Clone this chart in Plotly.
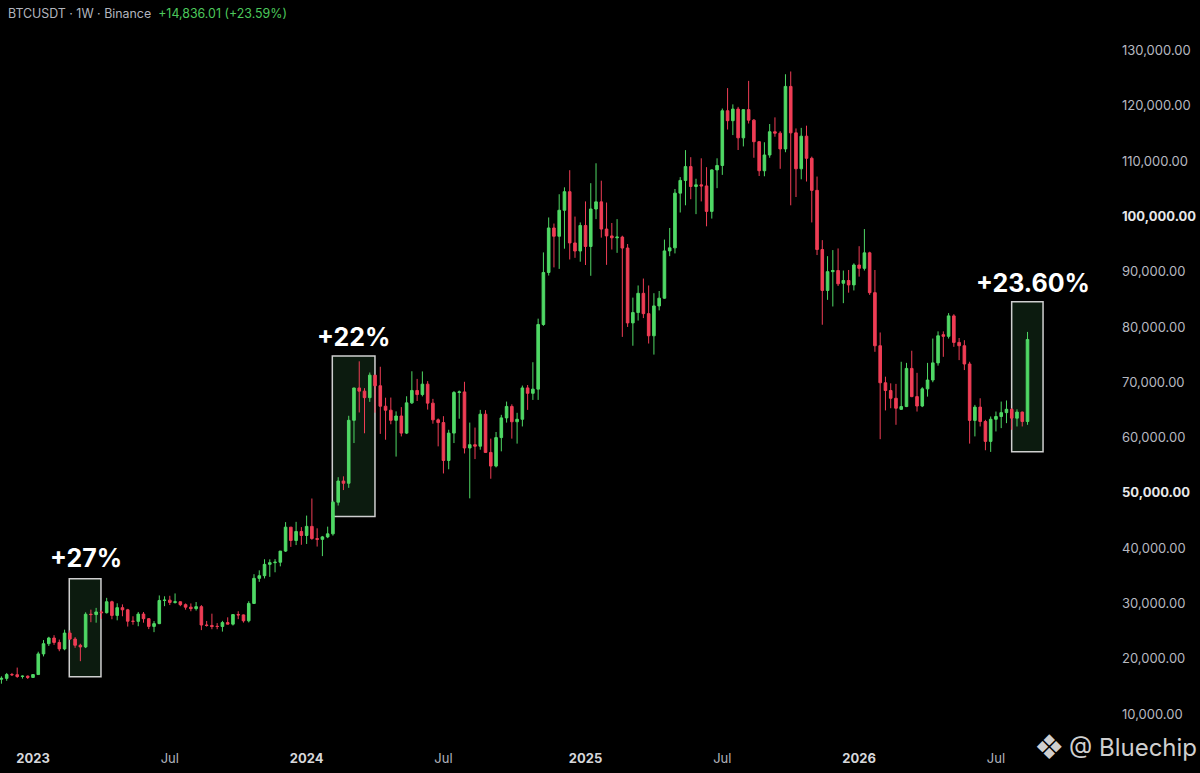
import pandas as pd
import plotly.graph_objects as go

# weekly BTCUSDT candles (Binance)
open_px = [
    16280, 16440, 17130, 17100, 16780, 16840,
    16610, 17130, 20870, 22710, 23740, 22940, 21770, 24630, 23550, 22430,
    22130, 28040, 27980, 28450, 28320, 30300, 27820, 29230, 28840, 26780,
    26750, 28070, 27230, 25840, 26340, 30530, 30590, 30170, 30290, 29770,
    29320, 29050, 29410, 26090, 26010, 25850, 25830, 26530, 26250, 27980,
    27920, 26850, 29990, 34530, 35010, 37060, 37360, 37450, 39460, 43790,
    41370, 43010,
    42280, 43930, 41730, 41580, 42030, 42580, 48300, 52130, 51730, 63110,
    68960, 68390, 67210, 71280, 69360, 65660, 64940, 63110, 63890, 60800,
    66270, 68510, 67770, 69650, 66220, 63200, 62700, 55850, 60800, 68150,
    68250, 58110, 58700, 58430, 64220, 57300, 54840, 59990, 63550, 65620,
    62850, 63300, 68970, 68000, 68750, 80440, 89850, 97900, 96400, 101100,
    104460, 95190,
    93730, 98350, 94550, 101330, 102620, 97700, 96460, 96120, 96250, 94270,
    80730, 82600, 86080, 82400, 78400, 83800, 85200, 93750, 94300, 104200,
    106500, 109000, 105400, 105700, 105500, 100900, 108400, 109200, 119100, 117300,
    119400, 114200, 119300, 117400, 113500, 108250, 111100, 115300, 115050, 112200,
    123500, 115100, 108600, 114500, 110500, 104700, 94000, 86600, 90000, 90200,
    87900, 88400,
    87600, 91200, 90600, 93400, 86200, 76600, 69900, 68500, 67100, 65100,
    65600, 72500, 67400, 65700, 68800, 70400, 73500, 78600, 78300, 82000,
    77200, 76600, 73300, 63100, 65500, 62900, 59300, 63300, 63800, 64500,
    65100, 63500, 64600, 62892,
]
high_px = [
    16810, 17420, 17420, 18390, 16960, 16970,
    17190, 21260, 23370, 23960, 24250, 23460, 25250, 25130, 23900, 22700,
    28390, 28870, 29190, 28800, 31000, 30490, 30020, 29820, 29010, 27670,
    28450, 28440, 27350, 26800, 31440, 31290, 31380, 31800, 30350, 29990,
    29990, 30250, 29690, 26820, 28140, 26440, 26840, 27480, 28050, 28580,
    27990, 30390, 35280, 35980, 37980, 37970, 38000, 39000, 44700, 43800,
    44750, 43800,
    45880, 48970, 43580, 42200, 43880, 48590, 52820, 52980, 63930, 69000,
    73780, 68930, 71760, 71300, 72800, 67200, 67230, 64730, 65500, 67460,
    71980, 70600, 71950, 70200, 66990, 63450, 63860, 61400, 68400, 68500,
    70080, 62700, 61800, 65000, 64950, 59800, 61000, 64100, 66500, 66000,
    64470, 69400, 69500, 73620, 81500, 93480, 99800, 98700, 104000, 105250,
    108350, 99960,
    98900, 102700, 106000, 109600, 106450, 102500, 98800, 99500, 96500, 95000,
    85300, 87500, 88750, 87500, 86100, 86500, 95800, 97900, 104950, 107100,
    111980, 110700, 106800, 110500, 108900, 108500, 110500, 119500, 123200, 120250,
    119800, 119300, 124500, 117600, 113600, 113400, 116700, 117900, 115400, 125700,
    126200, 115900, 116000, 116400, 110800, 107200, 95700, 92800, 93900, 94200,
    90200, 90300,
    91500, 94600, 97700, 93600, 90300, 79000, 71000, 69800, 69700, 73700,
    73500, 75700, 71700, 69100, 73500, 77900, 79200, 79200, 82500, 82300,
    78000, 77600, 73700, 65900, 67100, 63200, 63800, 64700, 66500, 66700,
    65300, 65100, 64700, 79100,
]
low_px = [
    15480, 16000, 16870, 16530, 16400, 16330,
    16550, 17120, 20410, 22300, 22500, 21350, 21530, 23420, 21970, 19550,
    21920, 26600, 26510, 27210, 28170, 27130, 26940, 27670, 25810, 26140,
    25870, 26510, 25350, 24800, 26250, 29500, 29700, 29960, 29500, 28860,
    28580, 28700, 25170, 25800, 25330, 25330, 24900, 26380, 26000, 27150,
    26530, 26560, 29900, 33900, 34520, 34800, 35630, 36700, 39300, 40220,
    40550, 40600,
    40750, 41500, 40280, 38550, 41800, 42260, 47700, 50500, 50900, 59000,
    64530, 60770, 66450, 64490, 60660, 59600, 62400, 56550, 60200, 60630,
    66060, 66600, 67440, 65050, 62500, 58400, 53500, 54260, 59000, 63400,
    57120, 49000, 56100, 57800, 57200, 52550, 54600, 57500, 62700, 59800,
    58900, 62000, 65000, 66800, 66800, 80200, 89300, 90770, 90500, 94150,
    92200, 92500,
    91800, 91200, 89250, 99500, 96150, 91230, 94000, 93400, 78200, 80000,
    76600, 81150, 81600, 77000, 75000, 83000, 85100, 92800, 93300, 100700,
    102000, 103100, 100400, 102700, 98200, 99600, 105100, 107500, 115700, 114700,
    112000, 112650, 116800, 110600, 107300, 107250, 110600, 114400, 108600, 111600,
    102000, 103500, 106700, 106300, 98900, 93000, 80400, 84900, 83700, 87400,
    84300, 86200,
    86600, 89100, 90200, 85800, 75500, 59700, 64900, 65300, 62300, 65000,
    65500, 67300, 64700, 65500, 67400, 70000, 73000, 74600, 77900, 76400,
    74000, 72200, 58900, 60200, 62000, 57700, 57400, 61100, 61700, 62600,
    61400, 62000, 62000, 62300,
]
close_px = [
    16440, 17130, 17100, 16780, 16840, 16610,
    17130, 20870, 22710, 23740, 22940, 21770, 24630, 23550, 22430, 22130,
    28040, 27980, 28450, 28320, 30300, 27820, 29230, 28840, 26780, 26750,
    28070, 27230, 25840, 26340, 30530, 30590, 30170, 30290, 29770, 29320,
    29050, 29410, 26090, 26010, 25820, 25830, 26530, 26250, 27980, 27920,
    26850, 29990, 34530, 35010, 37060, 37360, 37450, 39460, 43790, 41370,
    43010, 42280,
    43930, 41730, 41580, 42030, 42580, 48300, 52130, 51730, 63110, 68960,
    68390, 67210, 71280, 69360, 65660, 64940, 63110, 63890, 60800, 66270,
    68510, 67770, 69650, 66220, 63200, 62700, 55850, 60800, 68150, 68250,
    58110, 58700, 58430, 64220, 57300, 54840, 59990, 63550, 65620, 62850,
    63300, 68970, 68000, 68750, 80440, 89850, 97900, 96400, 101100, 104460,
    95190, 93730,
    98350, 94550, 101330, 102620, 97700, 96460, 96120, 96250, 94270, 80730,
    82600, 86080, 82400, 78400, 83800, 85200, 93750, 94300, 104200, 106500,
    109000, 105400, 105700, 105500, 100900, 108400, 109200, 119100, 117300, 119400,
    114200, 119300, 117400, 113500, 108250, 111100, 115300, 115050, 112200, 123500,
    115100, 108600, 114500, 110500, 104700, 94000, 86600, 90000, 90200, 87800,
    88400, 87600,
    91200, 90600, 93400, 86200, 76600, 69900, 68500, 67100, 65300, 65600,
    72500, 67400, 65700, 68800, 70400, 73500, 78400, 78300, 82000, 77200,
    76600, 73300, 63100, 65500, 62900, 59300, 63300, 63800, 64500, 65100,
    63500, 64600, 62892, 77728,
]
weeks = pd.date_range("2022-11-21", periods=len(close_px), freq="7D")

tick_dates = ["2023-01-02", "2023-07-03", "2024-01-01", "2024-07-01",
              "2025-01-06", "2025-07-07", "2026-01-05", "2026-07-06"]
tick_names = ["2023", "Jul", "2024", "Jul", "2025", "Jul", "2026", "Jul"]
price_ticks = list(range(10000, 130001, 10000))

# highlighted breakout weeks
gain_labels = ["+27%", "+22%", "+23.60%"]
box_start = ["2023-02-19 06:00", "2024-02-04 04:00", "2026-07-26 22:00"]
box_end = ["2023-04-02 10:00", "2024-03-31 22:00", "2026-09-06 16:00"]
box_low = [16750, 45700, 57440]
box_high = [34470, 74750, 84570]
label_at = ["2023-03-13 12:00", "2024-03-04", "2026-08-24"]
label_price = [38200, 78200, 87950]

GREEN = "#4fd865"
RED = "#ef3d55"
W, H = 1200, 773
MR, MB = 90, 28
PW, PH = W - MR, H - MB

# pixel calibration of the time axis: first 2023 bar at x=33, 5.262 px per week
t0 = pd.Timestamp("2023-01-02")
x_left = t0 + pd.Timedelta(weeks=-33 / 5.262)
x_right = t0 + pd.Timedelta(weeks=(PW - 33) / 5.262)


def fmt_price(v):
    s = f"{v:,.2f}"
    if v in (50000, 100000):
        return "<b><span style='color:#e8e8ea'>" + s + "</span></b>"
    return s


def fmt_date(name):
    if name == "Jul":
        return name
    return "<b><span style='color:#d6d7db'>" + name + "</span></b>"


fig = go.Figure()
fig.add_trace(go.Candlestick(
    x=weeks, open=open_px, high=high_px, low=low_px, close=close_px,
    increasing=dict(line=dict(color=GREEN, width=1), fillcolor=GREEN),
    decreasing=dict(line=dict(color=RED, width=1), fillcolor=RED),
    whiskerwidth=0, showlegend=False,
))

for i in range(len(gain_labels)):
    fig.add_shape(type="rect", xref="x", yref="y", layer="below",
                  x0=box_start[i], x1=box_end[i], y0=box_low[i], y1=box_high[i],
                  fillcolor="rgba(40,90,50,0.30)",
                  line=dict(color="#cfcfcf", width=1.5))
    fig.add_annotation(x=label_at[i], y=label_price[i], xref="x", yref="y",
                       text="<b>" + gain_labels[i] + "</b>", showarrow=False,
                       font=dict(family="Inter", size=25, color="#ffffff"))

# header line
fig.add_annotation(
    xref="paper", yref="paper", x=6 / PW, y=1 - 14 / PH,
    xanchor="left", yanchor="middle", showarrow=False,
    text="BTCUSDT · 1W · Binance&nbsp;&nbsp;<span style='color:#4cc85c'>+14,836.01 (+23.59%)</span>",
    font=dict(family="Inter", size=12.4, color="#b2b5be"))

# watermark
fig.add_annotation(
    xref="paper", yref="paper", x=1049 / PW, y=1 - 747 / PH,
    xanchor="center", yanchor="middle", showarrow=False,
    text="❖", font=dict(family="DejaVu Sans", size=34, color="#cfcfcf"))
fig.add_annotation(
    xref="paper", yref="paper", x=1067 / PW, y=1 - 747 / PH,
    xanchor="left", yanchor="middle", showarrow=False,
    text="@ Bluechip", font=dict(family="Inter", size=24, color="#cfcfcf"))

fig.update_layout(
    width=W, height=H,
    margin=dict(l=0, r=MR, t=0, b=MB),
    paper_bgcolor="#000000", plot_bgcolor="#000000",
    font=dict(family="Inter", color="#b2b5be"),
    showlegend=False,
    boxgap=0.3,
    xaxis=dict(
        type="date", range=[x_left, x_right], rangeslider=dict(visible=False),
        showgrid=False, zeroline=False, showline=False, ticks="",
        tickvals=tick_dates, ticktext=[fmt_date(n) for n in tick_names],
        tickfont=dict(family="Inter", size=13, color="#b2b5be"),
        ticklabelstandoff=4,
    ),
    yaxis=dict(
        side="right", range=[4390, 139130],
        showgrid=False, zeroline=False, showline=False, ticks="",
        tickvals=price_ticks, ticktext=[fmt_price(v) for v in price_ticks],
        tickfont=dict(family="Inter", size=13, color="#b7b9c0"),
        ticklabelstandoff=11,
    ),
)

fig.write_html("out.html", config={"displayModeBar": False},
               post_script="document.body.style.margin='0';")
